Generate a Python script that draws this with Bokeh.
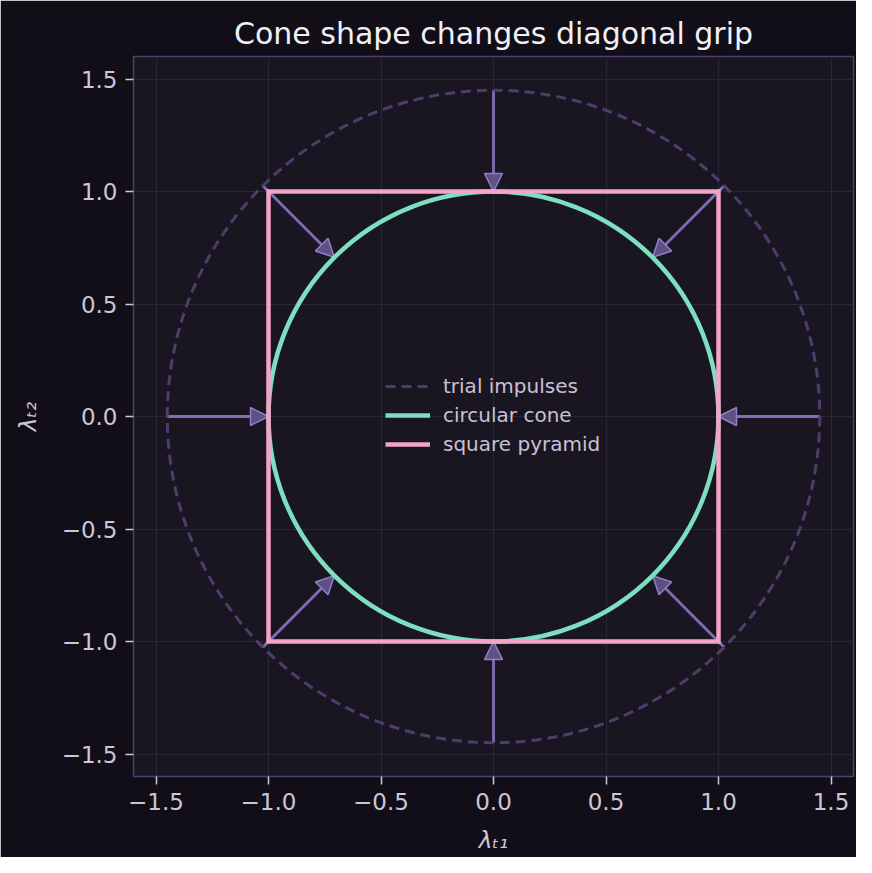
import numpy as np
from bokeh.plotting import figure
from bokeh.models import (ColumnDataSource, Arrow, NormalHead, Legend,
                          LegendItem, FixedTicker, Range1d)
from bokeh.embed import file_html
from bokeh.resources import INLINE

# data
tick_values = [-1.5, -1.0, -0.5, 0.0, 0.5, 1.0, 1.5]
tick_labels = ["\u22121.5", "\u22121.0", "\u22120.5", "0.0", "0.5", "1.0", "1.5"]
trial_radius = 1.45          # radius of the trial impulses
cone_radius = 1.0            # circular cone radius
pyramid_half = 1.0           # half width of square pyramid
directions_deg = [0, 45, 90, 135, 180, 225, 270, 315]
legend_labels = ["trial impulses", "circular cone", "square pyramid"]

BG = "#110e18"
PANEL = "#1a1621"
GRID = "#2a2537"
FRAME = "#4b4070"
TXT = "#cdc6da"
DASH = "#4b3e6a"
GREEN = "#7ddfc0"
PINK = "#f5a3c7"
ARROW = "#8c78c4"

p = figure(
    width=856, height=857,
    x_range=Range1d(-1.6, 1.6), y_range=Range1d(-1.6, 1.6),
    title="Cone shape changes diagonal grip",
    output_backend="svg", toolbar_location=None,
    min_border_left=133, min_border_right=3,
    min_border_top=56, min_border_bottom=81,
    background_fill_color=PANEL, border_fill_color=BG,
)

p.title.align = "center"
p.title.text_font = "DejaVu Sans"
p.title.text_font_size = "30px"
p.title.text_font_style = "normal"
p.title.text_color = "#f2f0f7"
p.title.standoff = 12

p.outline_line_color = FRAME
p.outline_line_width = 1.5
p.grid.grid_line_color = GRID
p.grid.grid_line_width = 1

overrides = dict(zip(tick_values, tick_labels))
for ax in (p.xaxis, p.yaxis):
    ax.ticker = FixedTicker(ticks=tick_values)
    ax.major_label_overrides = overrides
    ax.major_label_text_font = "DejaVu Sans"
    ax.major_label_text_font_size = "23px"
    ax.major_label_text_color = TXT
    ax.major_tick_line_color = TXT
    ax.major_tick_line_width = 1.5
    ax.major_tick_out = 8
    ax.major_tick_in = 0
    ax.minor_tick_out = 0
    ax.minor_tick_in = 0
    ax.axis_line_color = None
    ax.major_label_standoff = 8
    ax.axis_label_text_font = "DejaVu Sans"
    ax.axis_label_text_font_size = "23px"
    ax.axis_label_text_font_style = "italic"
    ax.axis_label_text_color = TXT
    ax.axis_label_standoff = 14

p.yaxis.axis_label_standoff = 18
p.xaxis.axis_label = "\u03bb\u209c\u2081"
p.yaxis.axis_label = "\u03bb\u209c\u2082"

# arrows: trial impulse -> projection on circular cone
theta = np.radians(directions_deg)
arrows = ColumnDataSource(dict(
    x0=trial_radius * np.cos(theta), y0=trial_radius * np.sin(theta),
    x1=cone_radius * np.cos(theta), y1=cone_radius * np.sin(theta),
))
head = NormalHead(size=18, fill_color=ARROW, fill_alpha=0.6,
                  line_color="#9a86d4", line_width=1.5, line_alpha=0.9)

# trial impulses circle
p.circle(x=[0], y=[0], radius=[trial_radius], fill_color=None,
         line_color=DASH, line_width=3, line_dash="10 6")

p.add_layout(Arrow(end=head, source=arrows, x_start="x0", y_start="y0",
                   x_end="x1", y_end="y1", line_color=ARROW,
                   line_width=2.8, line_alpha=0.9, level="underlay"))

# circular cone
p.circle(x=[0], y=[0], radius=[cone_radius], fill_color=None,
         line_color=GREEN, line_width=4.5)
# square pyramid
p.quad(left=[-pyramid_half], right=[pyramid_half],
       bottom=[-pyramid_half], top=[pyramid_half], fill_color=None,
       line_color=PINK, line_width=4.5, line_join="miter")

# legend proxies
r_dash = p.line(x=[np.nan], y=[np.nan], line_color=DASH, line_width=3,
                line_dash="10 6")
r_green = p.line(x=[np.nan], y=[np.nan], line_color=GREEN, line_width=4.5)
r_pink = p.line(x=[np.nan], y=[np.nan], line_color=PINK, line_width=4.5)

legend = Legend(
    items=[LegendItem(label=legend_labels[0], renderers=[r_dash]),
           LegendItem(label=legend_labels[1], renderers=[r_green]),
           LegendItem(label=legend_labels[2], renderers=[r_pink])],
    location=(252, 320),
    border_line_color=None, background_fill_alpha=0,
    label_text_font="DejaVu Sans", label_text_font_size="20px",
    label_text_color="#c8c0d4",
    glyph_width=45, glyph_height=20, label_height=20,
    spacing=5, padding=0, margin=0, label_standoff=13,
)
p.add_layout(legend)

open("out.html", "w").write(file_html(p, INLINE))
